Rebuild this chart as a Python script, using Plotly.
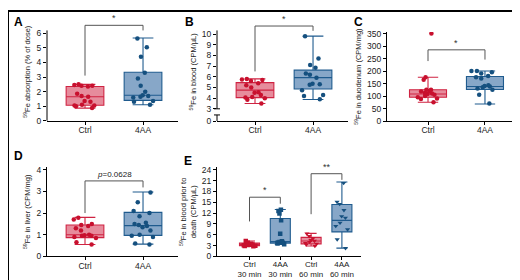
import plotly.graph_objects as go

# ---------------- data ----------------
groups = ["Ctrl", "4AA"]
groups_e = ["Ctrl<br>30 min", "4AA<br>30 min", "Ctrl<br>60 min", "4AA<br>60 min"]

# Panel A: 59Fe absorption (% of dose)
a_ctrl = [0.87, 1.0, 1.05, 1.05, 1.1, 1.3, 1.35, 1.65, 1.7, 1.85, 2.35, 2.4, 2.4, 2.45, 2.5]
a_4aa = [1.1, 1.3, 1.35, 1.6, 1.65, 1.7, 1.75, 2.0, 2.4, 2.9, 3.3, 4.4, 5.05, 5.65]
a_stats = {"q1": [1.07, 1.4], "median": [1.65, 1.75], "q3": [2.35, 3.33],
           "lf": [0.87, 1.1], "uf": [2.5, 5.68]}
a_bracket = [3.1, 6.55, 6.2]

# Panel B: 59Fe in blood (CPM/uL)
b_ctrl = [3.5, 3.85, 4.0, 4.05, 4.1, 4.3, 4.5, 4.55, 5.0, 5.2, 5.4, 5.6, 5.7, 5.75, 5.8]
b_4aa = [3.9, 4.2, 4.3, 4.75, 5.25, 5.3, 5.35, 5.9, 6.2, 6.3, 6.85, 7.1, 7.7, 9.8]
b_stats = {"q1": [4.05, 4.85], "median": [4.75, 5.92], "q3": [5.45, 6.62],
           "lf": [3.5, 3.88], "uf": [5.8, 9.8]}
b_bracket = [6.5, 10.75, 10.3]
b_tickvals = [1.855, 3, 4, 5, 6, 7, 8, 9, 10]
b_ticktext = ["0", "3", "4", "5", "6", "7", "8", "9", "10"]

# Panel C: 59Fe in duodenum (CPM/mg)
c_ctrl = [75, 88, 90, 95, 100, 105, 108, 110, 112, 118, 120, 125, 125, 165, 175, 350]
c_4aa = [70, 105, 125, 130, 135, 138, 140, 143, 170, 175, 180, 190, 195, 200, 200]
c_stats = {"q1": [95, 126], "median": [108, 138], "q3": [125, 178],
           "lf": [75, 68], "uf": [175, 200]}
c_bracket = [240, 285, 246]

# Panel D: 59Fe in liver (CPM/mg)
d_ctrl = [0.55, 0.65, 0.85, 0.9, 0.95, 0.95, 0.98, 1.0, 1.2, 1.3, 1.4, 1.45, 1.5, 1.7, 1.78]
d_4aa = [0.55, 0.6, 0.9, 0.95, 1.0, 1.2, 1.35, 1.4, 1.45, 1.5, 1.55, 1.85, 2.0, 2.1, 2.5, 2.95]
d_stats = {"q1": [0.87, 0.97], "median": [1.0, 1.42], "q3": [1.45, 2.03],
           "lf": [0.55, 0.57], "uf": [1.8, 2.97]}
d_bracket = [2.0, 3.48, 3.18]

# Panel E: 59Fe in blood prior to death (CPM/uL)
e_ctrl30 = [2.8, 2.9, 3.0, 3.1, 3.2, 3.3, 3.4, 3.5, 3.8, 4.3]
e_4aa30 = [3.4, 3.6, 3.8, 3.9, 4.0, 4.2, 6.3, 10.0, 11.9, 12.6, 12.9]
e_ctrl60 = [2.9, 3.3, 3.5, 3.7, 4.0, 4.3, 4.5, 5.0, 5.6, 6.3]
e_4aa60 = [2.3, 4.7, 7.5, 8.4, 9.3, 10.7, 11.1, 12.8, 14.5, 15.1, 20.3]
e_stats = {"q1": [3.0, 3.7, 3.5, 6.8], "median": [3.3, 4.1, 4.3, 10.0],
           "q3": [3.7, 10.5, 5.3, 14.4], "lf": [2.8, 3.3, 2.9, 2.3],
           "uf": [4.3, 13.0, 6.4, 20.6]}
e_bracket1 = [9.7, 16.4, 14.6]
e_bracket2 = [11.7, 22.9, 21.2]

y_titles = {
    "A": "<sup>59</sup>Fe absorption (% of dose)",
    "B": "<sup>59</sup>Fe in blood (CPM/µL)",
    "C": "<sup>59</sup>Fe in duodenum (CPM/mg)",
    "D": "<sup>59</sup>Fe in liver (CPM/mg)",
    "E": "<sup>59</sup>Fe in blood prior to<br>death (CPM/µL)",
}

# ---------------- style ----------------
W, H = 520, 280
FONT = "Arial, 'Liberation Sans', sans-serif"
RED_LINE = "#cf2342"
RED_FILL = "rgba(214,70,96,0.62)"
RED_PT = "#c8102e"
BLUE_LINE = "#1f5b8e"
BLUE_FILL = "rgba(70,120,170,0.65)"
BLUE_PT = "#15507f"
BRACKET = "#555555"


def dx(a, b):
    return [a / W, b / W]


def dy(top, bottom):
    return [1 - bottom / H, 1 - top / H]


fig = go.Figure()


def add_panel(ax, cats, stats, samples, colors, symbols, bw=0.65):
    xa, ya = ("x", "y") if ax == 1 else (f"x{ax}", f"y{ax}")
    for i, c in enumerate(cats):
        line_c, fill_c, pt_c = colors[i]
        fig.add_trace(go.Box(
            x=[c], q1=[stats["q1"][i]], median=[stats["median"][i]], q3=[stats["q3"][i]],
            lowerfence=[stats["lf"][i]], upperfence=[stats["uf"][i]],
            fillcolor=fill_c, line=dict(color=line_c, width=1.1), width=bw,
            whiskerwidth=0.55, boxpoints=False, xaxis=xa, yaxis=ya, showlegend=False))
    for i, c in enumerate(cats):
        line_c, fill_c, pt_c = colors[i]
        fig.add_trace(go.Box(
            x=[c] * len(samples[i]), y=samples[i], boxpoints="all", jitter=0.75, pointpos=0,
            width=bw, fillcolor="rgba(0,0,0,0)", line=dict(color="rgba(0,0,0,0)", width=0),
            marker=dict(color=pt_c, size=4.5, symbol=symbols[i]),
            xaxis=xa, yaxis=ya, showlegend=False))


def add_bracket(ax, c0, c1, vals):
    xa, ya = ("x", "y") if ax == 1 else (f"x{ax}", f"y{ax}")
    fig.add_trace(go.Scatter(x=[c0, c0, c1, c1], y=[vals[0], vals[1], vals[1], vals[2]],
                             mode="lines", line=dict(color=BRACKET, width=1),
                             xaxis=xa, yaxis=ya, showlegend=False, hoverinfo="skip"))


red = (RED_LINE, RED_FILL, RED_PT)
blue = (BLUE_LINE, BLUE_FILL, BLUE_PT)

add_panel(1, groups, a_stats, [a_ctrl, a_4aa], [red, blue], ["circle", "circle"])
add_bracket(1, groups[0], groups[1], a_bracket)
add_panel(2, groups, b_stats, [b_ctrl, b_4aa], [red, blue], ["circle", "circle"])
add_bracket(2, groups[0], groups[1], b_bracket)
add_panel(3, groups, c_stats, [c_ctrl, c_4aa], [red, blue], ["circle", "circle"])
add_bracket(3, groups[0], groups[1], c_bracket)
add_panel(4, groups, d_stats, [d_ctrl, d_4aa], [red, blue], ["circle", "circle"])
add_bracket(4, groups[0], groups[1], d_bracket)
add_panel(5, groups_e, e_stats, [e_ctrl30, e_4aa30, e_ctrl60, e_4aa60],
          [red, blue, red, blue], ["square", "square", "triangle-down", "triangle-down"])
add_bracket(5, groups_e[0], groups_e[1], e_bracket1)
add_bracket(5, groups_e[2], groups_e[3], e_bracket2)

tickfont = dict(family=FONT, size=8.5, color="#222")
titlefont = dict(family=FONT, size=7.5, color="#222")


def xaxis_cfg(dom, rng, cats, anchor, size=8.5, standoff=-2):
    return dict(domain=dom, range=rng, type="category", categoryorder="array",
                categoryarray=cats, showline=True, linecolor="black", linewidth=1,
                ticks="outside", ticklen=3, tickcolor="black",
                tickfont=dict(family=FONT, size=size, color="#222"),
                ticklabelstandoff=standoff,
                showgrid=False, zeroline=False, anchor=anchor, fixedrange=True)


def yaxis_cfg(dom, rng, tickvals, anchor, title, showline=True, ticktext=None):
    d = dict(domain=dom, range=rng, tickvals=tickvals, showline=showline,
             linecolor="black", linewidth=1, ticks="outside", ticklen=3,
             tickcolor="black", tickfont=tickfont, showgrid=False, zeroline=False,
             anchor=anchor, title=dict(text=title, font=titlefont, standoff=4),
             fixedrange=True)
    if ticktext is not None:
        d["ticktext"] = ticktext
    return d


fig.update_layout(
    width=W, height=H, margin=dict(l=0, r=0, t=0, b=0),
    paper_bgcolor="white", plot_bgcolor="white", boxmode="overlay",
    font=dict(family=FONT, color="#222"),
    xaxis=xaxis_cfg(dx(39, 170), [-0.655, 1.603], groups, "y"),
    yaxis=yaxis_cfg(dy(12, 113), [0, 101 / 15], [0, 1, 2, 3, 4, 5, 6], "x", y_titles["A"], showline=False),
    xaxis2=xaxis_cfg(dx(209, 340), [-0.655, 1.603], groups, "y2"),
    yaxis2=yaxis_cfg(dy(12, 113.3), [1.855, 1.855 + 101.3 / 11], b_tickvals, "x2", y_titles["B"],
                     showline=False, ticktext=b_ticktext),
    xaxis3=xaxis_cfg(dx(379, 510), [-0.72, 1.58], groups, "y3"),
    yaxis3=yaxis_cfg(dy(21.7, 113.3), [0, 356], [0, 50, 100, 150, 200, 250, 300, 350], "x3", y_titles["C"]),
    xaxis4=xaxis_cfg(dx(39, 170), [-0.655, 1.603], groups, "y4"),
    yaxis4=yaxis_cfg(dy(160.7, 252.7), [0, 4.116], [0, 1, 2, 3, 4], "x4", y_titles["D"]),
    xaxis5=xaxis_cfg(dx(209, 353), [-1.055, 3.62], groups_e, "y5", size=8, standoff=-3),
    yaxis5=yaxis_cfg(dy(160.7, 252.7), [0, 24.73], [0, 3, 6, 9, 12, 15, 18, 21, 24], "x5", y_titles["E"]),
)

# axis lines drawn as decoration (A full line, B broken axis)
def px_line(x0, y0, x1, y1, w=1, color="black"):
    fig.add_shape(type="line", xref="paper", yref="paper",
                  x0=x0 / W, x1=x1 / W, y0=1 - y0 / H, y1=1 - y1 / H,
                  line=dict(color=color, width=w))

px_line(39, 113, 39, 20)
px_line(209, 113.3, 209, 107)
px_line(206, 107, 212, 107)
px_line(209, 100.7, 209, 20)
px_line(206, 100.7, 212, 100.7)

# significance labels
sig_font = dict(family=FONT, size=9, color="#333")
fig.add_annotation(x=0.5, y=a_bracket[1], xref="x", yref="y", text="*", showarrow=False,
                   yanchor="bottom", font=sig_font)
fig.add_annotation(x=0.5, y=b_bracket[1], xref="x2", yref="y2", text="*", showarrow=False,
                   yanchor="bottom", font=sig_font)
fig.add_annotation(x=0.5, y=c_bracket[1], xref="x3", yref="y3", text="*", showarrow=False,
                   yanchor="bottom", font=sig_font)
fig.add_annotation(x=0.5, y=d_bracket[1], xref="x4", yref="y4", text="<i>p</i>=0.0628",
                   showarrow=False, yanchor="bottom", font=dict(family=FONT, size=8, color="#222"))
fig.add_annotation(x=0.5, y=e_bracket1[1], xref="x5", yref="y5", text="*", showarrow=False,
                   yanchor="bottom", font=sig_font)
fig.add_annotation(x=2.5, y=e_bracket2[1], xref="x5", yref="y5", text="**", showarrow=False,
                   yanchor="bottom", font=sig_font)

# panel letters
for letter, (lx, ly) in {"A": (10, 11), "B": (181, 11), "C": (350, 11),
                         "D": (10, 149), "E": (180, 154)}.items():
    fig.add_annotation(x=lx / W, y=1 - ly / H, xref="paper", yref="paper", text=f"<b>{letter}</b>",
                       showarrow=False, xanchor="center", yanchor="middle",
                       font=dict(family=FONT, size=12, color="black"))

# frame
fig.add_shape(type="rect", xref="paper", yref="paper", x0=0, x1=1, y0=0, y1=1,
              line=dict(color="black", width=2))

fig.write_html("out.html")
